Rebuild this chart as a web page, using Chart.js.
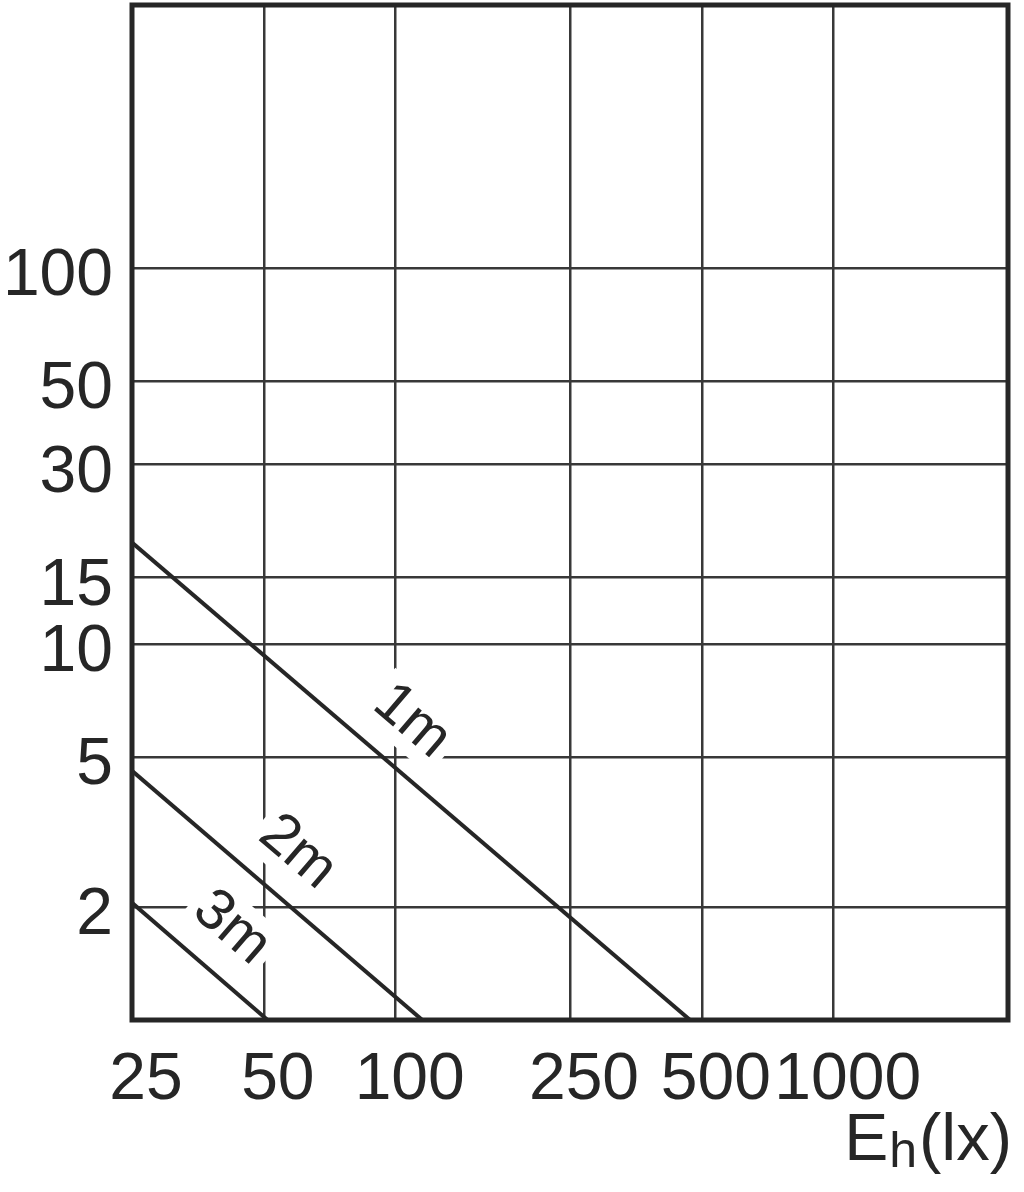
<!DOCTYPE html>
<html>
<head>
<meta charset="utf-8">
<script src="https://cdn.jsdelivr.net/npm/chart.js@4"></script>
<style>
  html, body { margin: 0; padding: 0; background: #fff; }
  #wrap { width: 1024px; height: 1192px; }
</style>
</head>
<body>
<div id="wrap"><canvas id="chart" width="1024" height="1192"></canvas></div>
<script>
// illuminance chart: E vs distance lines, log/log grid
const X_TICKS = [25, 50, 100, 250, 500, 1000];
const Y_TICKS = [2, 5, 10, 15, 30, 50, 100];
const X_RANGE = [25, 2500];
const Y_RANGE = [1, 500];

const SERIES_NAMES = ['1m', '2m', '3m'];
const LINE_1M = [{ x: 25, y: 18.6 }, { x: 470, y: 1 }];
const LINE_2M = [{ x: 25, y: 4.6 }, { x: 115, y: 1 }];
const LINE_3M = [{ x: 25, y: 2.05 }, { x: 51, y: 1 }];
const LABEL_AT_X = [93, 51, 36];

const FONT = '"Liberation Sans", Arial, Helvetica, sans-serif';
const INK = '#262626';

function labelGeometry(chart) {
  const xs = chart.scales.x, ys = chart.scales.y;
  return chart.data.datasets.map((ds, i) => {
    const a = ds.data[0], b = ds.data[ds.data.length - 1];
    const p0 = { x: xs.getPixelForValue(a.x), y: ys.getPixelForValue(a.y) };
    const p1 = { x: xs.getPixelForValue(b.x), y: ys.getPixelForValue(b.y) };
    const ang = Math.atan2(p1.y - p0.y, p1.x - p0.x);
    const ax = xs.getPixelForValue(LABEL_AT_X[i]);
    const ay = p0.y + (ax - p0.x) * Math.tan(ang);
    const off = 46;
    return { cx: ax + Math.sin(ang) * off, cy: ay - Math.cos(ang) * off, ang, text: ds.label };
  });
}

const lineLabels = {
  id: 'lineLabels',
  beforeDatasetsDraw(chart) {
    const ctx = chart.ctx;
    ctx.save();
    ctx.font = `58px ${FONT}`;
    labelGeometry(chart).forEach(g => {
      const w = ctx.measureText(g.text).width;
      ctx.save();
      ctx.translate(g.cx, g.cy);
      ctx.rotate(g.ang);
      ctx.fillStyle = '#fff';
      ctx.fillRect(-w / 2 - 7, -30, w + 14, 60);
      ctx.restore();
    });
    ctx.restore();
  },
  afterDatasetsDraw(chart) {
    const ctx = chart.ctx;
    ctx.save();
    ctx.font = `58px ${FONT}`;
    ctx.fillStyle = INK;
    ctx.textAlign = 'center';
    ctx.textBaseline = 'middle';
    labelGeometry(chart).forEach(g => {
      ctx.save();
      ctx.translate(g.cx, g.cy);
      ctx.rotate(g.ang);
      ctx.fillText(g.text, 0, 0);
      ctx.restore();
    });
    ctx.restore();
  },
  afterDraw(chart) {
    const { ctx, chartArea: ca } = chart;
    ctx.save();
    ctx.strokeStyle = INK;
    ctx.lineWidth = 5;
    ctx.strokeRect(ca.left, ca.top, ca.right - ca.left, ca.bottom - ca.top);

    // axis title E_h(lx)
    ctx.fillStyle = INK;
    ctx.textBaseline = 'alphabetic';
    ctx.textAlign = 'right';
    const right = ca.right + 4, base = 1160;
    ctx.font = `67px ${FONT}`;
    ctx.fillText('(lx)', right, base);
    const wUnit = ctx.measureText('(lx)').width;
    ctx.font = `50px ${FONT}`;
    const hx = right - wUnit - 2;
    ctx.fillText('h', hx, base + 7);
    const wh = ctx.measureText('h').width;
    ctx.font = `66px ${FONT}`;
    ctx.fillText('E', hx - wh - 1, base);
    ctx.restore();
  }
};

const gridStyle = { color: '#383838', lineWidth: 2.5, drawTicks: false };
const tickFont = { family: FONT, size: 66 };
const noPad = s => { s.paddingTop = 0; s.paddingBottom = 0; s.paddingLeft = 0; s.paddingRight = 0; };

new Chart(document.getElementById('chart'), {
  type: 'line',
  data: {
    datasets: [LINE_1M, LINE_2M, LINE_3M].map((pts, i) => ({
      label: SERIES_NAMES[i],
      data: pts,
      borderColor: INK,
      borderWidth: 4,
      pointRadius: 0,
      fill: false,
      tension: 0,
    })),
  },
  options: {
    responsive: false,
    animation: false,
    devicePixelRatio: 1,
    layout: { padding: { top: 5, right: 16, left: 0, bottom: 0 } },
    plugins: { legend: { display: false }, tooltip: { enabled: false } },
    scales: {
      x: {
        type: 'logarithmic',
        min: X_RANGE[0], max: X_RANGE[1],
        afterBuildTicks: s => { s.ticks = X_TICKS.map(v => ({ value: v })); },
        afterFit: s => { s.height = 172; noPad(s); },
        grid: gridStyle,
        border: { display: false },
        ticks: { callback: v => String(v), font: tickFont, color: INK, padding: 21, labelOffset: 14, autoSkip: false, maxRotation: 0, minRotation: 0 },
      },
      y: {
        type: 'logarithmic',
        min: Y_RANGE[0], max: Y_RANGE[1],
        afterBuildTicks: s => { s.ticks = Y_TICKS.map(v => ({ value: v })); },
        afterFit: s => { s.width = 132; noPad(s); },
        grid: gridStyle,
        border: { display: false },
        ticks: { callback: v => String(v), font: tickFont, color: INK, padding: 19, labelOffset: 9, autoSkip: false },
      },
    },
  },
  plugins: [lineLabels],
});
</script>
</body>
</html>
